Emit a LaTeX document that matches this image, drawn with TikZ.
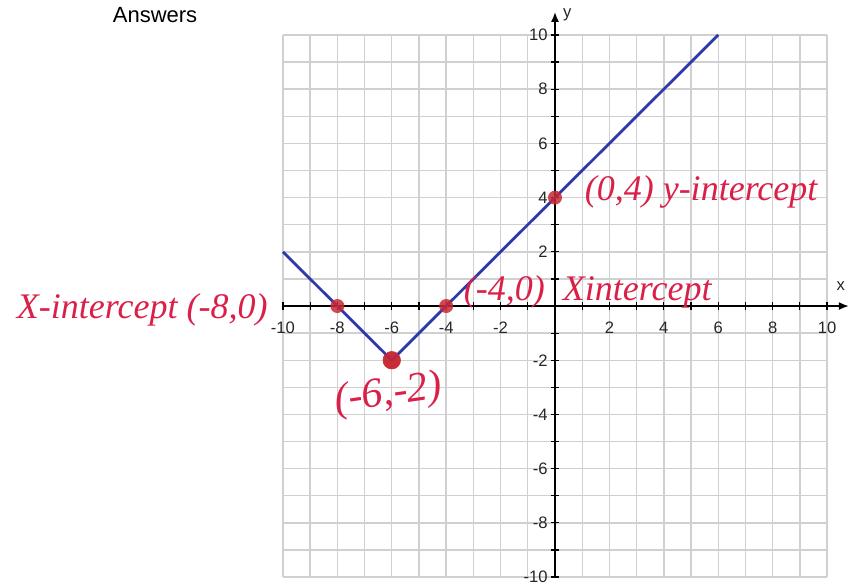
\documentclass[tikz,border=0pt]{standalone}
\usepackage{fontspec}
\setmainfont{Liberation Sans}
\newfontfamily\handfont{Liberation Serif}
\usetikzlibrary{positioning,arrows.meta}

\definecolor{gridgray}{RGB}{208,208,208}
\definecolor{lineblue}{RGB}{45,58,170}
\definecolor{penred}{RGB}{218,32,72}
\definecolor{dotred}{RGB}{200,40,50}

\begin{document}
\begin{tikzpicture}[
  x=13.6pt, y=13.55pt,
  font=\fontsize{8.3}{10}\selectfont,
  >={Latex[length=5pt,width=4pt]},
  axis/.style={line width=0.8pt,black},
  tickmk/.style={line width=0.6pt,black},
  gridln/.style={gridgray,line width=0.7pt},
  graph/.style={lineblue,line width=1.4pt,line join=round},
  dot/.style={circle,fill=dotred,fill opacity=0.85,inner sep=0pt,minimum size=7pt},
  hand/.style={penred,font=\handfont\itshape\fontsize{18}{20}\selectfont,inner sep=0pt},
  num/.style={font=\fontsize{8.3}{10}\selectfont,text=black!85,inner sep=1pt},
]
\useasboundingbox (-20.4,-10.33) rectangle (10.88,11.29);
\clip (-20.4,-10.33) rectangle (10.88,11.29);

% --- title ---
\node[font=\fontsize{11}{13}\selectfont] (title) at (-14.7,10.74) {Answers};

% --- grid ---
\foreach \i in {-10,...,10} {
  \draw[gridln] (\i,-10) -- (\i,10);
  \draw[gridln] (-10,\i) -- (10,\i);
}

% --- axes ---
\coordinate (xs) at (-10,0);
\coordinate (xe) at (10.8,0);
\coordinate (ys) at (0,-10);
\coordinate (ye) at (0,10.85);
\draw[axis,->] (xs) -- (xe);
\draw[axis,->] (ys) -- (ye);
\node[num] (xl) at (10.5,0.75) {x};
\node[num] (yl) at (0.45,10.75) {y};

% --- ticks and numbers ---
\foreach \i in {-10,...,-1,1,2,...,10} {
  \draw[tickmk] (\i,-0.15) -- (\i,0.15);
  \draw[tickmk] (-0.15,\i) -- (0.15,\i);
}
\foreach \i in {-10,-8,-6,-4,-2,2,4,6,8,10} {
  \node[num] (xn\i) at (\i,-0.8) {\i};
  \node[num,anchor=east] (yn\i) at (-0.18,\i) {\i};
}

% --- graph y = |x+6| - 2 ---
\coordinate (lft) at (-10,2);
\coordinate (top) at (6,10);
\node[dot,minimum size=9pt] (vtx) at (-6,-2) {};
\draw[graph] (lft) -- (vtx.center) -- (top);

% --- intercepts ---
\node[dot] (xa) at (-8,0) {};
\node[dot] (xb) at (-4,0) {};
\node[dot] (yi) at (0,4) {};
\node[dot,minimum size=9pt] at (vtx) {};

% --- handwritten notes ---
\node[hand,left=31pt of xa,yshift=-2pt] (na) {X-intercept (-8,0)};
\node[hand,below=3pt of vtx,xshift=-3pt,font=\handfont\itshape\fontsize{21}{23}\selectfont,rotate=8] (nv) {(-6,-2)};
\node[hand,right=5pt of xb,yshift=7pt,anchor=west] (nb) {(-4,0)\ \ Xintercept};
\node[hand,right=11pt of yi,yshift=3pt] (ny) {(0,4) y-intercept};

\end{tikzpicture}
\end{document}
